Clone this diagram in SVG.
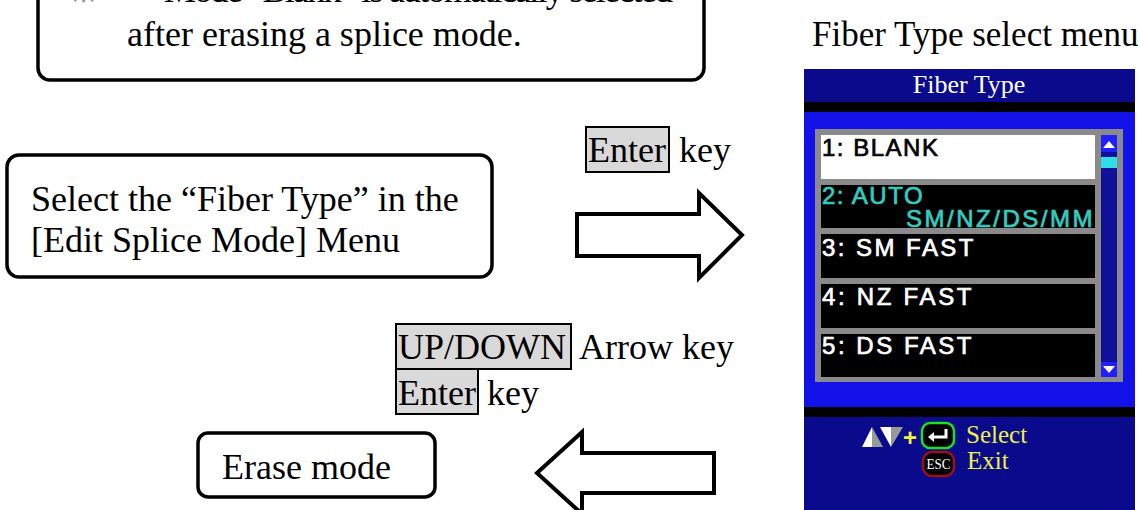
<svg xmlns="http://www.w3.org/2000/svg" width="1138" height="510" viewBox="0 0 1138 510">
<style>
.t{font-family:"Liberation Serif","Times New Roman",serif;font-size:36px;fill:#000}
.box{fill:#fff;stroke:#000;stroke-width:3.5}
.key{fill:#d9d9d9;stroke:#000;stroke-width:2}
.arr{fill:#fff;stroke:#000;stroke-width:4;stroke-linejoin:miter}
.lcd{font-family:"Liberation Sans",Arial,sans-serif;font-size:24px;fill:#fff;stroke:#fff;stroke-width:0.7;letter-spacing:1.5px}
.cy{fill:#33ccc0;stroke:#33ccc0}
.yel{font-family:"Liberation Serif","Times New Roman",serif;font-size:25px;fill:#f0f040}
</style>
<g id="note">
<rect class="box" x="38" y="-20" width="666" height="100" rx="12"/>
<text x="72" y="2" style="font-family:'Liberation Serif',serif;font-size:28px;fill:#999">※</text>
<text class="t" x="164" y="2" textLength="509" lengthAdjust="spacing">Mode “Blank” is automatically selected</text>
<text class="t" x="127" y="46">after erasing a splice mode.</text>
</g>
<g id="menu-label">
<text class="t" x="812" y="46" style="font-size:35px">Fiber Type select menu</text>
</g>
<g id="select-step">
<rect class="box" x="7" y="155" width="485" height="122" rx="12"/>
<text class="t" x="31" y="211">Select the “Fiber Type” in the</text>
<text class="t" x="31" y="252">[Edit Splice Mode] Menu</text>
</g>
<g id="erase-step">
<rect class="box" x="198" y="433" width="237" height="64" rx="10"/>
<text class="t" x="222" y="479">Erase mode</text>
</g>
<g id="connectors">
<g id="enter-label">
<rect class="key" x="586" y="127" width="83" height="45"/>
<text class="t" x="588" y="162">Enter</text>
<text class="t" x="679" y="162">key</text>
</g>
<polygon class="arr" points="577,214 699,214 699,193 742,235 699,278 699,256 577,256"/>
<g id="back-label">
<rect class="key" x="396" y="324" width="175" height="45"/>
<rect class="key" x="396" y="369" width="82" height="45"/>
<text class="t" x="398" y="359">UP/DOWN</text>
<text class="t" x="579" y="359">Arrow key</text>
<text class="t" x="398" y="405">Enter</text>
<text class="t" x="487" y="405">key</text>
</g>
<polygon class="arr" points="714,453 582,453 582,432 537,473 582,514 582,493 714,493"/>
</g>
<g id="fiber-type-screen">
<rect x="804" y="69" width="331" height="441" fill="#0a0a8c"/>
<rect x="804" y="102" width="331" height="10" fill="#000"/>
<rect x="804" y="112" width="331" height="295" fill="#1212e8"/>
<rect x="804" y="407" width="331" height="10" fill="#000"/>
<text x="969" y="93" text-anchor="middle" style="font-family:'Liberation Serif',serif;font-size:26px;fill:#fff">Fiber Type</text>
<rect x="815" y="129" width="308" height="253" fill="#8a8a8a"/>
<rect x="821" y="135" width="274" height="44" fill="#fff"/>
<rect x="821" y="185" width="274" height="43" fill="#000"/>
<rect x="821" y="234" width="274" height="44" fill="#000"/>
<rect x="821" y="284" width="274" height="44" fill="#000"/>
<rect x="821" y="334" width="274" height="43" fill="#000"/>
<text class="lcd" x="822" y="156" style="fill:#000;stroke:#000">1: BLANK</text>
<text class="lcd cy" x="822" y="204">2: AUTO</text>
<text class="lcd cy" x="906" y="227" textLength="188">SM/NZ/DS/MM</text>
<text class="lcd" x="822" y="256" textLength="153">3: SM FAST</text>
<text class="lcd" x="822" y="305" textLength="151">4: NZ FAST</text>
<text class="lcd" x="822" y="354" textLength="151">5: DS FAST</text>
<rect x="1101" y="135" width="16" height="242" fill="#10109a"/>
<rect x="1101" y="135" width="16" height="17" fill="#2020ff"/>
<polygon points="1103,148 1109,141 1115,148" fill="#fff"/>
<rect x="1101" y="157" width="16" height="11" fill="#30dde8"/>
<rect x="1101" y="362" width="16" height="15" fill="#2020ff"/>
<polygon points="1103,366 1115,366 1109,373" fill="#fff"/>
<polygon points="872,427 862,447 872,447" fill="#fff"/>
<polygon points="872,427 872,447 883,447" fill="#999"/>
<polygon points="880,427 891,427 891,447" fill="#fff"/>
<polygon points="891,427 903,427 891,447" fill="#999"/>
<text x="903" y="446" style="font-family:'Liberation Sans',sans-serif;font-size:24px;font-weight:bold;fill:#f0f040">+</text>
<rect x="922" y="423" width="32" height="25" rx="8" fill="#000" stroke="#22dd22" stroke-width="2.5"/>
<path d="M946,429 V437 H932" fill="none" stroke="#fff" stroke-width="3"/>
<polygon points="928,437 934,432 934,442" fill="#fff"/>
<text class="yel" x="966" y="443">Select</text>
<rect x="923" y="452" width="31" height="24" rx="9" fill="#000" stroke="#991111" stroke-width="2.5"/>
<text x="938.5" y="469" text-anchor="middle" textLength="24" lengthAdjust="spacingAndGlyphs" style="font-family:'Liberation Serif',serif;font-size:15px;fill:#fff">ESC</text>
<text class="yel" x="967" y="469">Exit</text>
</g>
</svg>
